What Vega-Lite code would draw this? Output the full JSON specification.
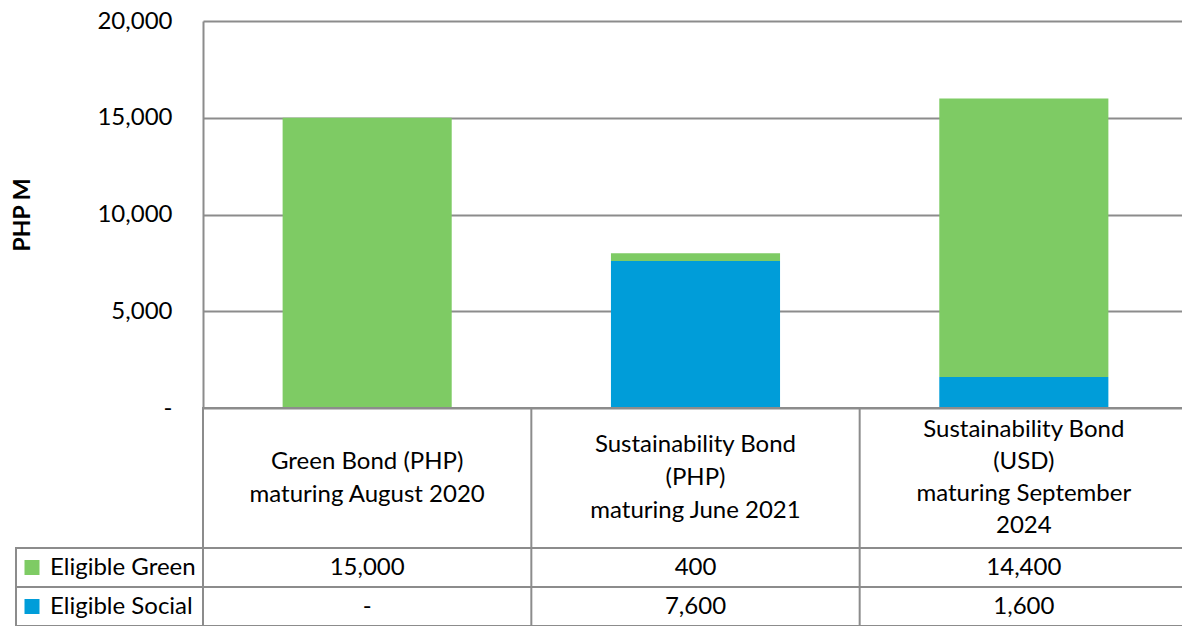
{
  "$schema": "https://vega.github.io/schema/vega-lite/v6.json",
  "background": "white",
  "padding": {"left": 11, "top": 9, "right": 0, "bottom": 0},
  "config": {
    "font": "Lato",
    "view": {"stroke": null},
    "text": {"font": "Lato", "fontSize": 24, "color": "#000000"},
    "axis": {"labelFont": "Lato", "titleFont": "Lato"},
    "legend": {"labelFont": "Lato"}
  },
  "datasets": {
    "bonds": [
      {"bond": "Green Bond (PHP)|maturing August 2020", "type": "Eligible Green", "value": 15000},
      {"bond": "Green Bond (PHP)|maturing August 2020", "type": "Eligible Social", "value": 0},
      {"bond": "Sustainability Bond|(PHP)|maturing June 2021", "type": "Eligible Green", "value": 400},
      {"bond": "Sustainability Bond|(PHP)|maturing June 2021", "type": "Eligible Social", "value": 7600},
      {"bond": "Sustainability Bond|(USD)|maturing September|2024", "type": "Eligible Green", "value": 14400},
      {"bond": "Sustainability Bond|(USD)|maturing September|2024", "type": "Eligible Social", "value": 1600}
    ]
  },
  "columns": 2,
  "bounds": "flush",
  "align": "each",
  "spacing": 0,
  "concat": [
    {
      "width": 187, "height": 387,
      "data": {"name": "bonds"},
      "transform": [{"filter": "datum.type == 'Eligible Green'"}],
      "mark": {"type": "text", "text": ""},
      "encoding": {}
    },
    {
      "width": 985, "height": 387,
      "data": {"name": "bonds"},
      "mark": {"type": "bar", "width": {"band": 0.515}},
      "encoding": {
        "x": {"field": "bond", "type": "nominal", "sort": null, "scale": {"paddingInner": 0, "paddingOuter": 0}, "axis": null},
        "y": {
          "field": "value", "type": "quantitative", "stack": "zero",
          "scale": {"domain": [0, 20000], "nice": false},
          "axis": {
            "title": "PHP M", "titleFontSize": 23, "titleFontWeight": "bold", "titleColor": "#000000", "titlePadding": 62,
            "values": [0, 5000, 10000, 15000, 20000],
            "labelExpr": "datum.value == 0 ? '-' : format(datum.value, ',')",
            "labelFontSize": 24, "labelColor": "#000000", "labelPadding": 31,
            "ticks": false,
            "domainColor": "#8c8c8c", "domainWidth": 2,
            "grid": true, "gridColor": "#8c8c8c", "gridWidth": 2
          }
        },
        "color": {
          "field": "type", "type": "nominal",
          "scale": {"domain": ["Eligible Green", "Eligible Social"], "range": ["#7ECB64", "#009DD9"]},
          "legend": {
            "orient": "none", "legendX": 4, "legendY": 527, "title": null,
            "symbolType": "square", "symbolSize": 225, "symbolStrokeWidth": 0, "symbolOpacity": 1,
            "labelFontSize": 24, "labelColor": "#000000", "labelOffset": 6,
            "clipHeight": 39, "rowPadding": 0, "padding": 0, "direction": "vertical"
          }
        },
        "order": {"field": "type", "sort": "descending"}
      }
    },
    {
      "width": 187, "height": 140,
      "data": {"name": "bonds"},
      "transform": [{"filter": "datum.type == 'Eligible Green'"}],
      "mark": {"type": "text", "text": ""},
      "encoding": {}
    },
    {
      "width": 985, "height": 140,
      "data": {"name": "bonds"},
      "transform": [{"filter": "datum.type == 'Eligible Green'"}],
      "view": {"stroke": "#8c8c8c", "strokeWidth": 2},
      "layer": [
        {
          "transform": [{"filter": "length(split(datum.bond, '|')) == 2"}],
          "mark": {"type": "text", "lineBreak": "|", "lineHeight": 33, "fontSize": 24, "dy": -16.5},
          "encoding": {
            "x": {"field": "bond", "type": "nominal", "sort": null, "scale": {"paddingInner": 0, "paddingOuter": 0}, "axis": null},
            "text": {"field": "bond"}
          }
        },
        {
          "transform": [{"filter": "length(split(datum.bond, '|')) == 3"}],
          "mark": {"type": "text", "lineBreak": "|", "lineHeight": 33, "fontSize": 24, "dy": -33},
          "encoding": {
            "x": {"field": "bond", "type": "nominal", "sort": null, "scale": {"paddingInner": 0, "paddingOuter": 0}, "axis": null},
            "text": {"field": "bond"}
          }
        },
        {
          "transform": [{"filter": "length(split(datum.bond, '|')) == 4"}],
          "mark": {"type": "text", "lineBreak": "|", "lineHeight": 32, "fontSize": 24, "dy": -48},
          "encoding": {
            "x": {"field": "bond", "type": "nominal", "sort": null, "scale": {"paddingInner": 0, "paddingOuter": 0}, "axis": null},
            "text": {"field": "bond"}
          }
        },
        {
          "mark": {"type": "rule", "color": "#8c8c8c", "strokeWidth": 2},
          "encoding": {
            "x": {"field": "bond", "type": "nominal", "sort": null, "bandPosition": 0, "scale": {"paddingInner": 0, "paddingOuter": 0}, "axis": null}
          }
        }
      ]
    },
    {
      "width": 187, "height": 39,
      "data": {"name": "bonds"},
      "transform": [{"filter": "datum.type == 'Eligible Green'"}],
      "view": {"stroke": "#8c8c8c", "strokeWidth": 2},
      "mark": {"type": "text", "text": ""},
      "encoding": {}
    },
    {
      "width": 985, "height": 39,
      "data": {"name": "bonds"},
      "transform": [{"filter": "datum.type == 'Eligible Green'"}],
      "view": {"stroke": "#8c8c8c", "strokeWidth": 2},
      "layer": [
        {
          "mark": {"type": "text", "fontSize": 24},
          "encoding": {
            "x": {"field": "bond", "type": "nominal", "sort": null, "scale": {"paddingInner": 0, "paddingOuter": 0}, "axis": null},
            "text": {"condition": {"test": "datum.value == 0", "value": "-"}, "field": "value", "type": "quantitative", "format": ","}
          }
        },
        {
          "mark": {"type": "rule", "color": "#8c8c8c", "strokeWidth": 2},
          "encoding": {
            "x": {"field": "bond", "type": "nominal", "sort": null, "bandPosition": 0, "scale": {"paddingInner": 0, "paddingOuter": 0}, "axis": null}
          }
        }
      ]
    },
    {
      "width": 187, "height": 39,
      "data": {"name": "bonds"},
      "transform": [{"filter": "datum.type == 'Eligible Social'"}],
      "view": {"stroke": "#8c8c8c", "strokeWidth": 2},
      "mark": {"type": "text", "text": ""},
      "encoding": {}
    },
    {
      "width": 985, "height": 39,
      "data": {"name": "bonds"},
      "transform": [{"filter": "datum.type == 'Eligible Social'"}],
      "view": {"stroke": "#8c8c8c", "strokeWidth": 2},
      "layer": [
        {
          "mark": {"type": "text", "fontSize": 24},
          "encoding": {
            "x": {"field": "bond", "type": "nominal", "sort": null, "scale": {"paddingInner": 0, "paddingOuter": 0}, "axis": null},
            "text": {"condition": {"test": "datum.value == 0", "value": "-"}, "field": "value", "type": "quantitative", "format": ","}
          }
        },
        {
          "mark": {"type": "rule", "color": "#8c8c8c", "strokeWidth": 2},
          "encoding": {
            "x": {"field": "bond", "type": "nominal", "sort": null, "bandPosition": 0, "scale": {"paddingInner": 0, "paddingOuter": 0}, "axis": null}
          }
        }
      ]
    }
  ]
}
